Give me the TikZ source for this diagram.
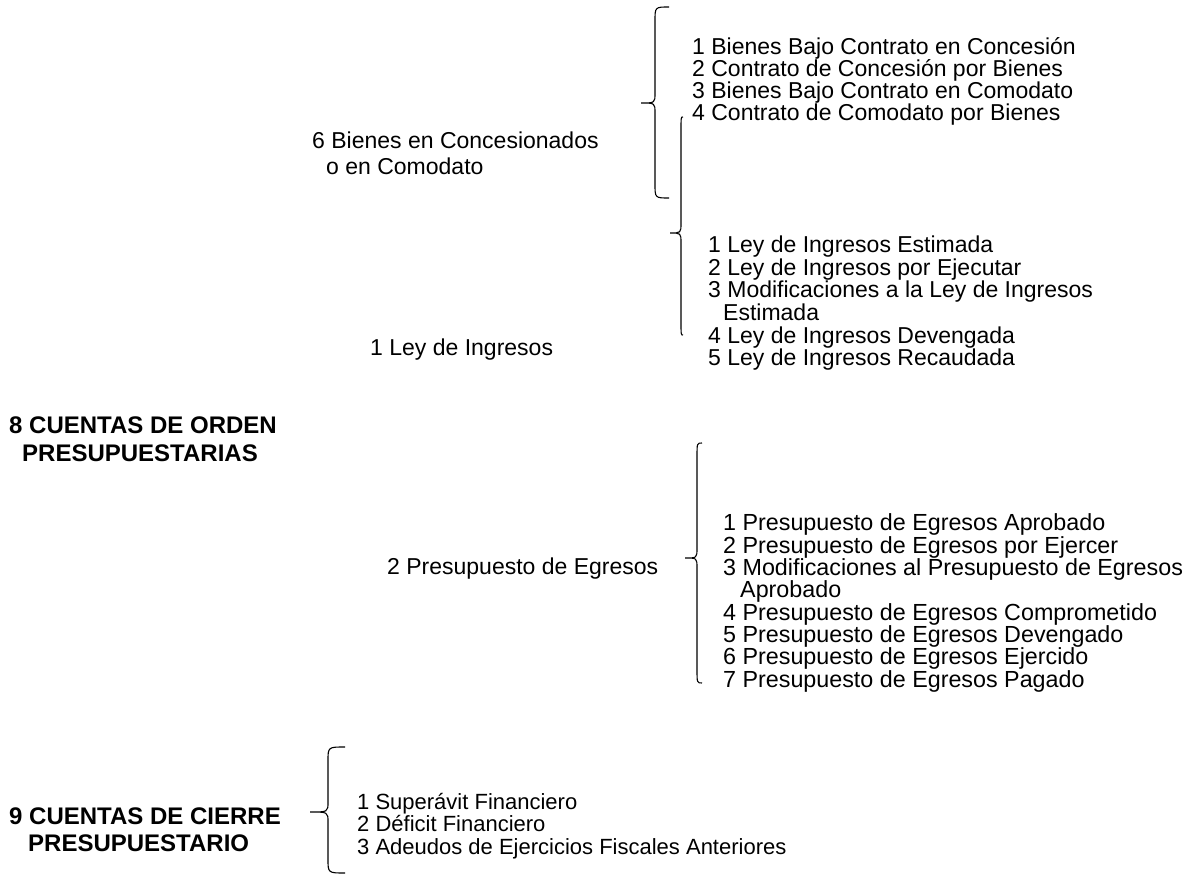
\documentclass[tikz,border=0pt]{standalone}
\usepackage{fontspec}
\setmainfont{Liberation Sans}
\begin{document}
\begin{tikzpicture}[x=1pt,y=-1pt,
  txt/.style={anchor=base west,inner sep=0pt,font=\fontsize{23}{23}\selectfont},
  txtp/.style={txt,font=\fontsize{23.3}{23}\selectfont},
  txts/.style={txt,font=\fontsize{22}{22}\selectfont},
  head/.style={txt,font=\fontsize{24}{24}\selectfont\bfseries},
  brace/.style={draw=black,line width=1.1pt}]
\useasboundingbox (0,0) rectangle (1202,877);
\newcommand{\mybrace}[6]{% xe, xl, xt, ytop, ytip, ybot
  \draw[brace] (#1,#4) .. controls (#2,#4) .. (#2,#4+14) -- (#2,#5-10)
    .. controls (#2,#5) .. (#3,#5) .. controls (#2,#5) .. (#2,#5+10)
    -- (#2,#6-14) .. controls (#2,#6) .. (#1,#6);}
% headings
\node[head] (h8a) at (9,433) {8 CUENTAS DE ORDEN};
\node[head] (h8b) at (22,461) {PRESUPUESTARIAS};
\node[head] (h9a) at (9,824) {9 CUENTAS DE CIERRE};
\node[head] (h9b) at (28,851) {PRESUPUESTARIO};
% sub-groups
\node[txt] (g6a) at (312,149) {6 Bienes en Concesionados};
\node[txt] (g6b) at (326,175) {o en Comodato};
\node[txt] (g1) at (370,355) {1 Ley de Ingresos};
\node[txt] (g2) at (387,574) {2 Presupuesto de Egresos};
% bienes list
\node[txt] (b1) at (692,55) {1 Bienes Bajo Contrato en Concesión};
\node[txt] (b2) at (692,77) {2 Contrato de Concesión por Bienes};
\node[txt] (b3) at (692,99) {3 Bienes Bajo Contrato en Comodato};
\node[txt] (b4) at (692,121) {4 Contrato de Comodato por Bienes};
% ley list
\node[txt] (l1) at (708,253) {1 Ley de Ingresos Estimada};
\node[txt] (l2) at (708,276) {2 Ley de Ingresos por Ejecutar};
\node[txt] (l3) at (708,298) {3 Modificaciones a la Ley de Ingresos};
\node[txt] (l3b) at (723,320) {Estimada};
\node[txt] (l4) at (708,343) {4 Ley de Ingresos Devengada};
\node[txt] (l5) at (708,365) {5 Ley de Ingresos Recaudada};
% presupuesto list
\node[txtp] (p1) at (723,530) {1 Presupuesto de Egresos Aprobado};
\node[txtp] (p2) at (723,553) {2 Presupuesto de Egresos por Ejercer};
\node[txtp] (p3) at (723,575) {3 Modificaciones al Presupuesto de Egresos};
\node[txtp] (p3b) at (740,597) {Aprobado};
\node[txtp] (p4) at (723,620) {4 Presupuesto de Egresos Comprometido};
\node[txtp] (p5) at (723,642) {5 Presupuesto de Egresos Devengado};
\node[txtp] (p6) at (723,664) {6 Presupuesto de Egresos Ejercido};
\node[txtp] (p7) at (723,687) {7 Presupuesto de Egresos Pagado};
% cierre list
\node[txts] (c1) at (357,809) {1 Superávit Financiero};
\node[txts] (c2) at (357,831) {2 Déficit Financiero};
\node[txts] (c3) at (357,854) {3 Adeudos de Ejercicios Fiscales Anteriores};
% braces
\mybrace{669}{655}{641}{7}{103}{198}
\mybrace{683}{681}{670}{117}{233}{335}
\mybrace{702}{697}{685}{443}{558}{683}
\mybrace{345}{328}{310}{747}{812}{873}
\end{tikzpicture}
\end{document}
